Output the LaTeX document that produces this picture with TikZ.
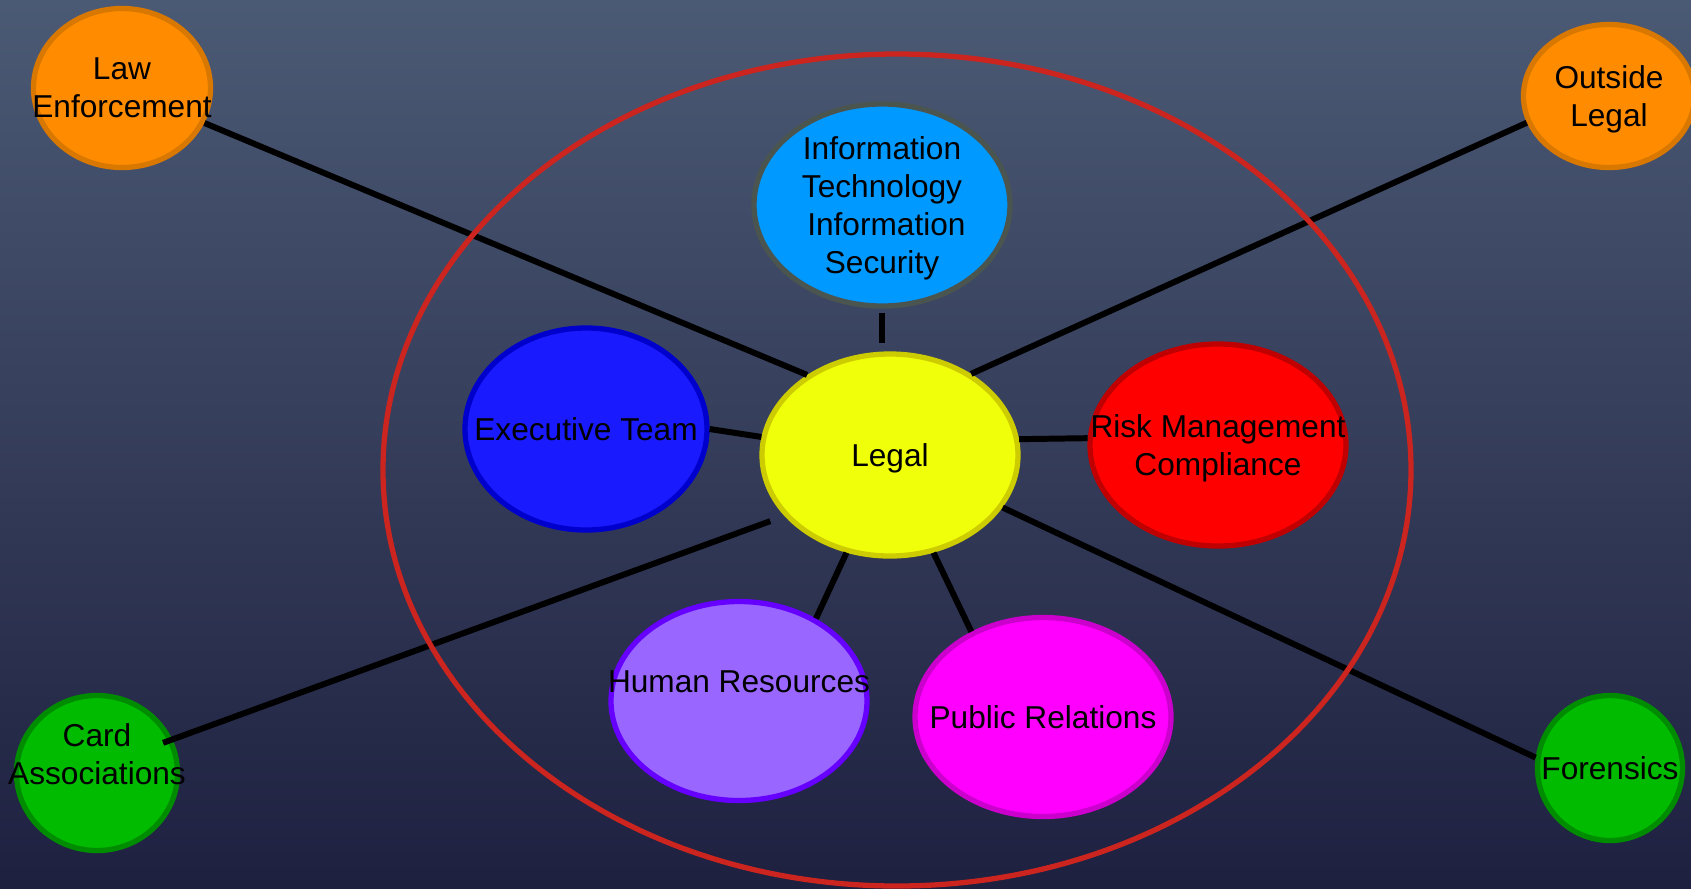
\documentclass[tikz,border=0pt]{standalone}
\usepackage{fontspec}
\setmainfont{Liberation Sans}
\usetikzlibrary{shapes.geometric}
\definecolor{bgTop}{RGB}{75,90,116}
\definecolor{bgBottom}{RGB}{30,32,64}
\definecolor{ringRed}{RGB}{204,36,30}
\definecolor{legalFill}{RGB}{240,255,10}
\definecolor{legalLine}{RGB}{204,204,0}
\definecolor{itFill}{RGB}{0,153,255}
\definecolor{itLine}{RGB}{74,85,80}
\definecolor{execFill}{RGB}{26,26,255}
\definecolor{execLine}{RGB}{0,0,204}
\definecolor{riskFill}{RGB}{255,0,0}
\definecolor{riskLine}{RGB}{192,0,0}
\definecolor{hrFill}{RGB}{153,102,255}
\definecolor{hrLine}{RGB}{102,0,255}
\definecolor{prFill}{RGB}{255,0,255}
\definecolor{prLine}{RGB}{204,0,204}
\definecolor{orangeFill}{RGB}{255,140,0}
\definecolor{orangeLine}{RGB}{217,120,0}
\definecolor{greenFill}{RGB}{0,187,0}
\definecolor{greenLine}{RGB}{0,140,0}

\tikzset{
  % negative inner sep so the size comes from the minimum width/height only
  bubble/.style={ellipse, draw, line width=1.5pt, inner sep=-0.6cm, align=center,
    text depth=0pt, font=\fontsize{9}{10.8}\selectfont,
    minimum width=2.56cm, minimum height=2.02cm},
  link/.style={line width=1.7pt, black},
}

\begin{document}
\begin{tikzpicture}
    \shade[top color=bgTop, bottom color=bgBottom] (0,0) rectangle (16.91,-8.88);
    \useasboundingbox (0,0) rectangle (16.91,-8.88);

    % inner circle
    \node[bubble, fill=legalFill, draw=legalLine] (legal) at (8.90,-4.55) {Legal};
    \node[bubble, fill=itFill, draw=itLine] (it) at (8.82,-2.05)
        {Information\\Technology\\\ Information\\Security};
    \node[bubble, fill=execFill, draw=execLine, minimum width=2.42cm] (exec) at (5.86,-4.29) {Executive Team};
    \node[bubble, fill=riskFill, draw=riskLine] (risk) at (12.18,-4.45) {Risk Management\\Compliance};
    \node[bubble, fill=hrFill, draw=hrLine, minimum height=1.99cm] (hr) at (7.39,-7.01) {Human Resources\\\mbox{}};
    \node[bubble, fill=prFill, draw=prLine, minimum height=1.99cm] (pr) at (10.43,-7.17) {Public Relations};

    % outside parties
    \node[bubble, fill=orangeFill, draw=orangeLine, minimum width=1.77cm, minimum height=1.59cm] (law) at (1.22,-0.88) {Law\\Enforcement};
    \node[bubble, fill=orangeFill, draw=orangeLine, minimum width=1.71cm, minimum height=1.43cm] (outside) at (16.09,-0.96) {Outside\\Legal};
    \node[bubble, fill=greenFill, draw=greenLine, minimum width=1.61cm, minimum height=1.55cm] (card) at (0.97,-7.73) {Card\\Associations\\\mbox{}};
    \node[bubble, fill=greenFill, draw=greenLine, minimum width=1.45cm, minimum height=1.45cm] (forensics) at (16.10,-7.68) {Forensics};

    \draw[link] (law.337) -- (legal.136);
    \draw[link] (outside.198) -- (legal.45);
    \draw[link, shorten <=0.04cm, shorten >=0.08cm] (it.south) -- (it.south |- legal.north);
    \draw[link] (exec.east) -- (legal.172);
    \draw[link] (legal.7) -- (risk.177);
    \draw[link, shorten <=-0.10cm, shorten >=0.15cm] (card.24) -- (legal.210);
    \draw[link] (legal.246) -- (hr.47);
    \draw[link] (legal.294) -- (pr.130);
    \draw[link] (legal.335) -- (forensics.172);

    \draw[ringRed, line width=1.5pt] (8.97,-4.70) ellipse [x radius=5.14, y radius=4.16];
\end{tikzpicture}
\end{document}
